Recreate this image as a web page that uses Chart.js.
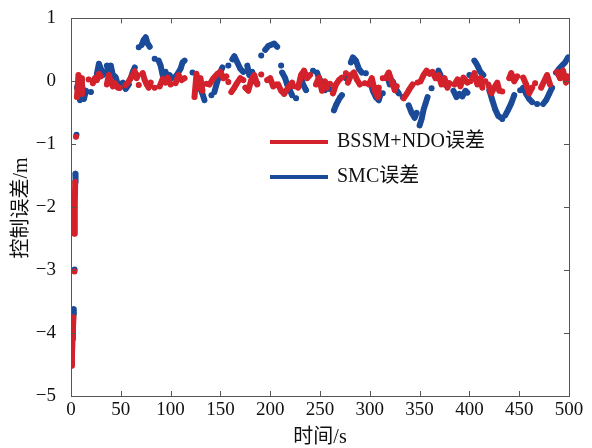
<!DOCTYPE html>
<html>
<head>
<meta charset="utf-8">
<script src="https://cdn.jsdelivr.net/npm/chart.js"></script>
<style>
  html, body { margin: 0; padding: 0; background: #fff; }
  #wrap { width: 592px; height: 448px; }
</style>
</head>
<body>
<div id="wrap"><canvas id="c" width="592" height="448"></canvas></div>
<script>
// axis ticks
const xTicks = [0, 50, 100, 150, 200, 250, 300, 350, 400, 450, 500];
const yTicks = [1, 0, -1, -2, -3, -4, -5];
const seriesNames = ["BSSM+NDO误差", "SMC误差"];

// BSSM+NDO error (null = break between point clusters)
const redT = [0.5, 1, 1.5, 2, 2.5, null, 3.5, null, 3.5, 3.8, 4.2, null, 5, null,
  6, 7.5, 9, 10.5, 11, null, 17.7, null, 22, 24, 26, 28, 30, null,
  36, 38, 40, 42, 44, 47, null, 49, null, 55, 58, 61, 64, 66, 67, null, 68, null,
  72, 74, 76, 78, 80, null, 84, null, 89, 92, 95, 97, 100, null, 105, 108, 111, 114, null,
  124, 126, 128, 130, 132, null, 136, null, 139, 143, 147, 150, 153, 156, null, 158, null,
  161, 164, 167, 170, 173, null, 175, 178, 181, 184, 187, null, 191, null,
  197, 200, 203, 206, null, 208, 211, 214, 218, 222, null, 224, null,
  228, 231, 234, 237, 240, null, 246, 249, 252, 255, 257, null, 260, null,
  263, 266, 269, 272, null, 276, null, 278, 281, 284, 287, 290, null, 295, null,
  299, 302, 305, 308, 309, null, 313, null, 316, 319, 322, 325, null, 327, null,
  334, 337, 340, 343, null, 348, null, 351, 354, 357, 360, 363, 366, null,
  369, 372, 375, 378, 380, null, 385, 388, 391, 394, 398, null, 401, null,
  403, 405, 408, 411, 413, null, 416, null, 419, 422, 425, 428, 430, null, 433, null,
  440, 442, 445, 448, null, 454, 457, 460, 463, null, 466, null,
  472, 475, 478, 481, null, 488, 491, 494, 497, 498];
const redV = [-4.52, -4.35, -4.1, -3.9, -3.75, null, -3.02, null, -2.42, -2.0, -1.6, null, -0.88, null,
  -0.25, 0.1, -0.15, 0.05, -0.2, null, 0.03, null, -0.03, 0.05, 0.02, 0.12, 0.08, null,
  -0.05, 0.1, 0.0, -0.08, -0.03, -0.1, null, -0.1, null, -0.06, 0.0, 0.08, 0.16, 0.05, 0.1, null, -0.06, null,
  0.13, 0.02, -0.05, -0.1, -0.02, null, -0.1, null, -0.08, 0.04, -0.02, 0.06, -0.05, null, -0.03, 0.1, 0.02, 0.05, null,
  -0.25, 0.12, -0.1, 0.05, -0.15, null, -0.04, null, -0.05, 0.05, 0.12, 0.15, 0.05, 0.08, null, -0.01, null,
  -0.17, -0.1, -0.02, 0.05, 0.02, null, -0.1, -0.15, 0.02, 0.1, -0.05, null, 0.11, null,
  0.02, 0.05, -0.08, -0.05, null, -0.05, -0.15, -0.2, -0.1, -0.02, null, -0.08, null,
  -0.1, 0.1, 0.17, 0.05, 0.1, null, -0.05, 0.06, -0.15, 0.0, -0.1, null, -0.04, null,
  -0.19, -0.05, 0.02, 0.06, null, 0.13, null, -0.02, 0.1, 0.14, 0.03, -0.05, null, -0.03, null,
  -0.05, 0.05, -0.15, -0.25, -0.1, null, 0.05, null, 0.05, 0.14, 0.0, -0.14, null, -0.08, null,
  -0.27, -0.2, -0.12, -0.05, null, -0.02, null, 0.0, 0.1, 0.17, 0.12, 0.15, 0.05, null,
  0.1, -0.05, 0.05, -0.1, -0.03, null, -0.05, 0.03, -0.08, 0.06, -0.02, null, 0.0, null,
  0.05, 0.13, -0.05, 0.05, -0.1, null, 0.0, null, -0.05, -0.19, -0.1, -0.02, -0.15, null, -0.16, null,
  0.05, 0.13, 0.0, 0.08, null, 0.06, -0.05, -0.19, -0.1, null, -0.03, null,
  -0.1, 0.0, 0.1, -0.05, null, 0.15, 0.05, 0.17, -0.02, 0.08];

// SMC error
const blueT = [0.3, null, 2.6, 2.8, null, 3.6, null, 4.4, 4.6, null, 5.5, null,
  6, 7, 9, 11, 13, 15, null, 20, null, 26, 28, 30, 32, 34, null, 36, 38, 40, 42, 44, null,
  45, 47, 49, null, 52, 55, 58, null, 60, 62, 64, null, 68, null, 71, 73, 75, 77, 79, null, 84, null,
  88, 90, 92, 94, null, 95, 97, 99, null, 100.5, null, 104, 107, 110, 112, 114, null, 122, null,
  127, 130, 132, 134, null, 141, null, 144, 146, 148, 150, 152, null, 158, null,
  162, 164, 167, 170, 173, null, 177, 179, 182, 184, 187, null, 191, null,
  195, 198, 201, 204, 207, null, 211, null, 212, 215, 217, 220, 222, null, 226, null,
  231, 233, 236, null, 243, null, 247, 249, 251, 253, 255, null, 260, null,
  264, 266, 268, 270, 272, null, 276, null, 281, 283, 286, 289, 292, null, 296, null,
  301, 303, 306, 309, 311, null, 313, null, 318, 320, 323, 326, 329, null, 333, null,
  339, 342, 345, 347, null, 350, 352, 354, 356, 358, null, 362, null,
  367, 369, 371, 373, 375, null, 378, null, 384, 387, 390, 393, 396, 398, null, 400, null,
  405, 407, 409, 411, 414, null, 420, 423, 426, 429, 431, null, 433, null,
  436, 439, 442, 445, null, 451, null, 454, 457, 460, 463, null, 468, null,
  474, 477, 480, 483, null, 487, 490, 493, 496, 499];
const blueV = [-4.35, null, -3.62, -3.7, null, -2.99, null, -1.47, -1.6, null, -0.85, null,
  -0.1, -0.05, -0.3, -0.05, -0.28, -0.15, null, -0.17, null, 0.12, 0.28, 0.2, 0.1, 0.15, null, 0.25, 0.15, 0.25, 0.1, 0.08, null,
  0.06, -0.05, -0.1, null, -0.02, -0.12, -0.05, null, 0.05, 0.15, 0.22, null, 0.54, null, 0.58, 0.66, 0.7, 0.6, 0.55, null, 0.36, null,
  0.33, 0.25, 0.1, 0.02, null, 0.15, 0.05, 0.1, null, 0.05, null, 0.06, 0.12, 0.2, 0.3, 0.33, null, 0.14, null,
  -0.05, -0.12, -0.2, -0.3, null, -0.22, null, -0.17, -0.05, 0.05, 0.15, 0.22, null, 0.25, null,
  0.35, 0.4, 0.3, 0.2, 0.15, null, 0.25, 0.1, 0.15, 0.0, -0.03, null, 0.41, null,
  0.5, 0.56, 0.58, 0.6, 0.55, null, 0.25, null, 0.14, 0.05, -0.05, -0.15, -0.22, null, -0.27, null,
  0.06, -0.05, -0.14, null, 0.17, null, 0.14, 0.05, 0.0, -0.06, -0.14, null, -0.12, null,
  -0.46, -0.38, -0.32, -0.26, -0.22, null, 0.05, null, 0.3, 0.38, 0.33, 0.2, 0.14, null, 0.13, null,
  -0.03, -0.15, -0.25, -0.3, -0.2, null, -0.19, null, 0.06, -0.05, 0.0, -0.12, -0.19, null, -0.25, null,
  -0.38, -0.5, -0.58, -0.5, null, -0.7, -0.6, -0.45, -0.35, -0.25, null, -0.11, null,
  0.05, 0.17, 0.1, 0.0, -0.05, null, -0.05, null, -0.15, -0.25, -0.2, -0.24, -0.15, -0.18, null, 0.1, null,
  0.33, 0.28, 0.22, 0.15, 0.1, null, -0.14, -0.3, -0.45, -0.55, -0.57, null, -0.6, null,
  -0.54, -0.45, -0.35, -0.22, null, -0.14, null, -0.1, -0.2, -0.28, -0.33, null, -0.36, null,
  -0.36, -0.3, -0.2, -0.1, null, 0.14, 0.2, 0.25, 0.3, 0.38];

const RED = '#d3222c';
const BLUE = '#1b4b98';
const FONT = '"Liberation Serif", "Times New Roman", "Noto Sans CJK SC", serif';

function toPoints(ts, vs) {
  return ts.map((t, i) => ({ x: t === null ? NaN : t, y: vs[i] }));
}

function minusLabel(v) {
  return v < 0 ? '\u2212' + Math.abs(v) : String(v);
}

// frame, inward ticks, axis titles and legend
const decor = {
  id: 'decor',
  afterDraw(chart) {
    const ctx = chart.ctx;
    const a = chart.chartArea;
    const xs = chart.scales.x, ys = chart.scales.y;
    ctx.save();
    ctx.strokeStyle = '#555';
    ctx.lineWidth = 1;
    ctx.strokeRect(Math.round(a.left) + 0.5, Math.round(a.top) + 0.5,
      Math.round(a.right - a.left), Math.round(a.bottom - a.top));
    const tl = 5;
    ctx.beginPath();
    xTicks.forEach(t => {
      const px = Math.round(xs.getPixelForValue(t)) + 0.5;
      ctx.moveTo(px, a.bottom); ctx.lineTo(px, a.bottom - tl);
      ctx.moveTo(px, a.top); ctx.lineTo(px, a.top + tl);
    });
    yTicks.forEach(v => {
      const py = Math.round(ys.getPixelForValue(v)) + 0.5;
      ctx.moveTo(a.left, py); ctx.lineTo(a.left + tl, py);
      ctx.moveTo(a.right, py); ctx.lineTo(a.right - tl, py);
    });
    ctx.stroke();

    ctx.fillStyle = '#111';
    ctx.font = '20px ' + FONT;
    ctx.textAlign = 'center';
    ctx.textBaseline = 'middle';
    ctx.fillText('时间/s', (a.left + a.right) / 2, 438);
    ctx.save();
    ctx.translate(22, 208);
    ctx.rotate(-Math.PI / 2);
    ctx.fillText('控制误差/m', 0, 0);
    ctx.restore();

    // legend
    const colors = [RED, BLUE];
    ctx.textAlign = 'left';
    ctx.lineWidth = 4;
    seriesNames.forEach((name, i) => {
      const y = 142 + i * 35;
      ctx.strokeStyle = colors[i];
      ctx.beginPath();
      ctx.moveTo(270, y); ctx.lineTo(328, y);
      ctx.stroke();
      ctx.fillStyle = '#111';
      ctx.fillText(name, 337, y);
    });
    ctx.restore();
  }
};

const dsStyle = color => ({
  borderColor: color,
  backgroundColor: color,
  borderWidth: 6,
  borderCapStyle: 'round',
  borderJoinStyle: 'round',
  pointRadius: 2.6,
  pointBorderWidth: 0,
  pointHoverRadius: 0,
  showLine: true,
  spanGaps: false,
  tension: 0
});

new Chart(document.getElementById('c'), {
  type: 'scatter',
  data: {
    datasets: [
      Object.assign({ label: seriesNames[0], data: toPoints(redT, redV) }, dsStyle(RED)),
      Object.assign({ label: seriesNames[1], data: toPoints(blueT, blueV) }, dsStyle(BLUE))
    ]
  },
  options: {
    responsive: false,
    animation: false,
    events: [],
    layout: { padding: { top: 16, right: 23, left: 0, bottom: 0 } },
    plugins: { legend: { display: false }, tooltip: { enabled: false } },
    scales: {
      x: {
        type: 'linear', min: 0, max: 500,
        afterBuildTicks: s => { s.ticks = xTicks.map(v => ({ value: v })); },
        afterFit: s => { s.height = 52; },
        grid: { display: false },
        border: { display: false },
        ticks: { color: '#111', font: { family: FONT, size: 19 }, padding: -5, maxRotation: 0, autoSkip: false }
      },
      y: {
        type: 'linear', min: -5, max: 1,
        afterBuildTicks: s => { s.ticks = yTicks.map(v => ({ value: v })); },
        afterFit: s => { s.width = 71; },
        grid: { display: false },
        border: { display: false },
        ticks: { color: '#111', font: { family: FONT, size: 19 }, padding: 7, callback: minusLabel }
      }
    }
  },
  plugins: [decor]
});
</script>
</body>
</html>
